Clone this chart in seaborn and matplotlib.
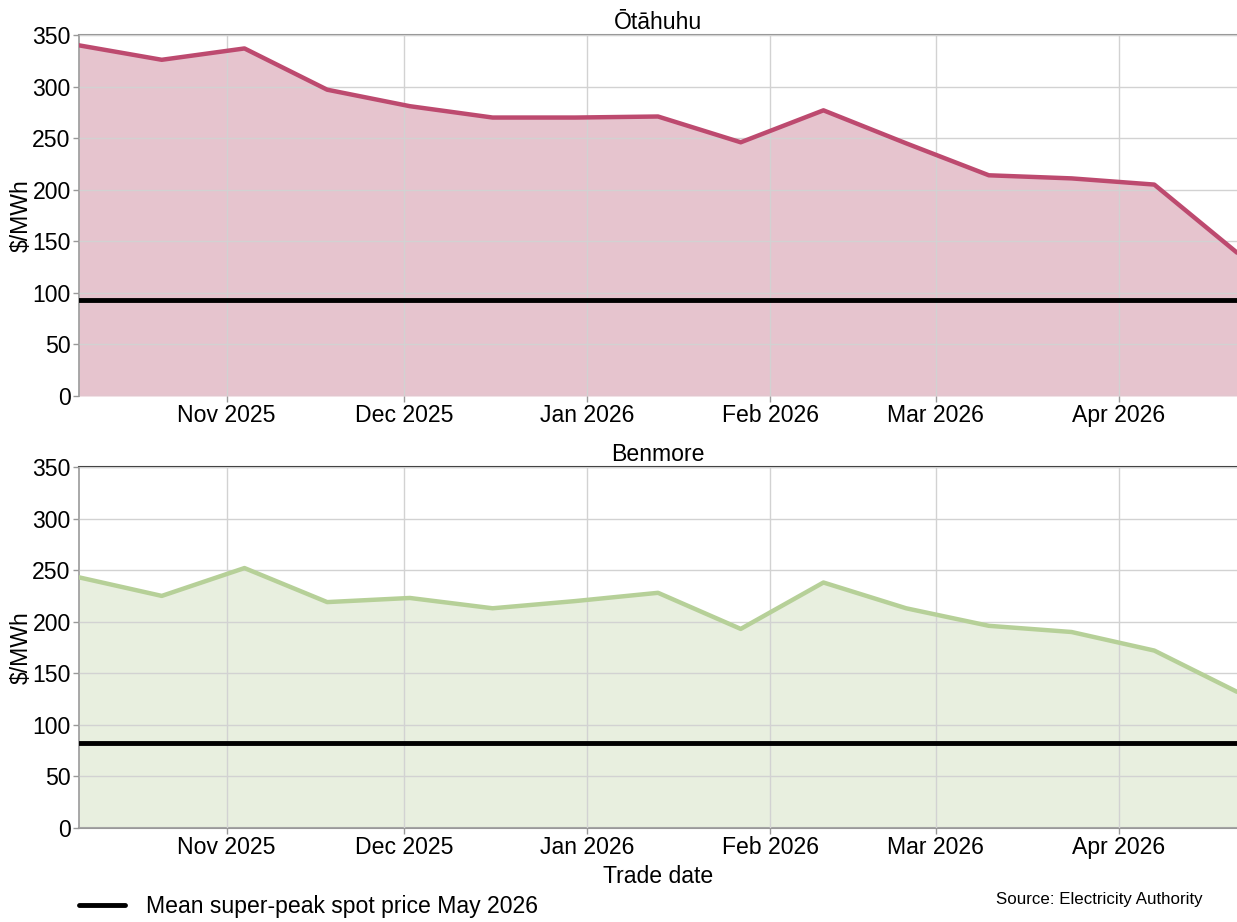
import matplotlib
matplotlib.use("Agg")
import matplotlib.pyplot as plt
import matplotlib.dates as mdates
from matplotlib.lines import Line2D
import seaborn as sns
import pandas as pd

# ---- data ----
trade_dates = ["2025-10-07", "2025-10-21", "2025-11-04", "2025-11-18", "2025-12-02",
               "2025-12-16", "2025-12-30", "2026-01-13", "2026-01-27", "2026-02-10",
               "2026-02-24", "2026-03-10", "2026-03-24", "2026-04-07", "2026-04-21"]
otahuhu_price = [340, 326, 337, 297, 281, 270, 270, 271, 246, 277, 245, 214, 211, 205, 139]
benmore_price = [243, 225, 252, 219, 223, 213, 220, 228, 193, 238, 213, 196, 190, 172, 132]
node_names = ["Ōtāhuhu", "Benmore"]
mean_may_2026 = [93, 82]
line_colors = ["#bd4a6f", "#b6d098"]
fill_colors = ["#e6c4ce", "#e8efdf"]
legend_label = "Mean super-peak spot price May 2026"
source_text = "Source: Electricity Authority"
y_label = "$/MWh"
x_label = "Trade date"

dates = pd.to_datetime(trade_dates)
series = [otahuhu_price, benmore_price]

sns.set_theme(style="white")
plt.rcParams["font.family"] = ["Liberation Sans", "DejaVu Sans"]
plt.rcParams["text.color"] = "black"
plt.rcParams["axes.labelcolor"] = "black"

fig = plt.figure(figsize=(12.37, 9.22), dpi=100)
ax_top = fig.add_axes([0.0639, 0.5705, 0.9361, 0.3915])
ax_bot = fig.add_axes([0.0639, 0.102, 0.9361, 0.3915])
axes = [ax_top, ax_bot]

xmin, xmax = pd.Timestamp(trade_dates[0]), pd.Timestamp(trade_dates[-1])
FS = 16.6

for i, ax in enumerate(axes):
    df = pd.DataFrame({"date": dates, "price": series[i]})
    ax.fill_between(df["date"], 0, df["price"], color=fill_colors[i], lw=0, zorder=1)
    sns.lineplot(data=df, x="date", y="price", ax=ax, color=line_colors[i],
                 lw=3.2, zorder=3)
    ax.axhline(mean_may_2026[i], color="black", lw=3.5, zorder=4)
    ax.set_xlim(xmin, xmax)
    ax.set_ylim(0, 350)
    ax.set_yticks(range(0, 351, 50))
    ax.xaxis.set_major_locator(mdates.MonthLocator())
    ax.xaxis.set_major_formatter(mdates.DateFormatter("%b %Y"))
    ax.grid(True, color="#d2d2d2", lw=1.0, zorder=2)
    ax.set_axisbelow(False)
    for art in ax.get_xgridlines() + ax.get_ygridlines():
        art.set_zorder(2)
    ax.tick_params(axis="both", labelsize=FS, colors="#999999", labelcolor="black",
                   length=4, width=1, direction="out", bottom=True, left=True, pad=2)
    ax.set_ylabel(y_label, fontsize=FS, labelpad=0, color="black")
    ax.set_xlabel("")
    ax.set_title(node_names[i], fontsize=FS, pad=4, color="black")
    ax.spines["right"].set_visible(False)
    ax.spines["left"].set_color("#999999")
    ax.spines["left"].set_linewidth(1.2)
    ax.spines["top"].set_linewidth(1.5)
    ax.spines["bottom"].set_color("#999999")
    ax.spines["bottom"].set_linewidth(1.5)

ax_top.spines["top"].set_color("#999999")
ax_top.spines["bottom"].set_visible(False)
ax_bot.spines["top"].set_color("#444444")

ax_bot.set_xlabel(x_label, fontsize=FS, labelpad=4, color="black")

handle = Line2D([], [], color="black", lw=3.5)
fig.legend([handle], [legend_label], loc="lower left", bbox_to_anchor=(0.047, -0.018),
           frameon=False, fontsize=FS, handlelength=2.0, handletextpad=0.9,
           labelcolor="black")
fig.text(0.972, 0.024, source_text, ha="right", va="center", fontsize=12.2, color="black")

fig.savefig("out.png", dpi=100)
